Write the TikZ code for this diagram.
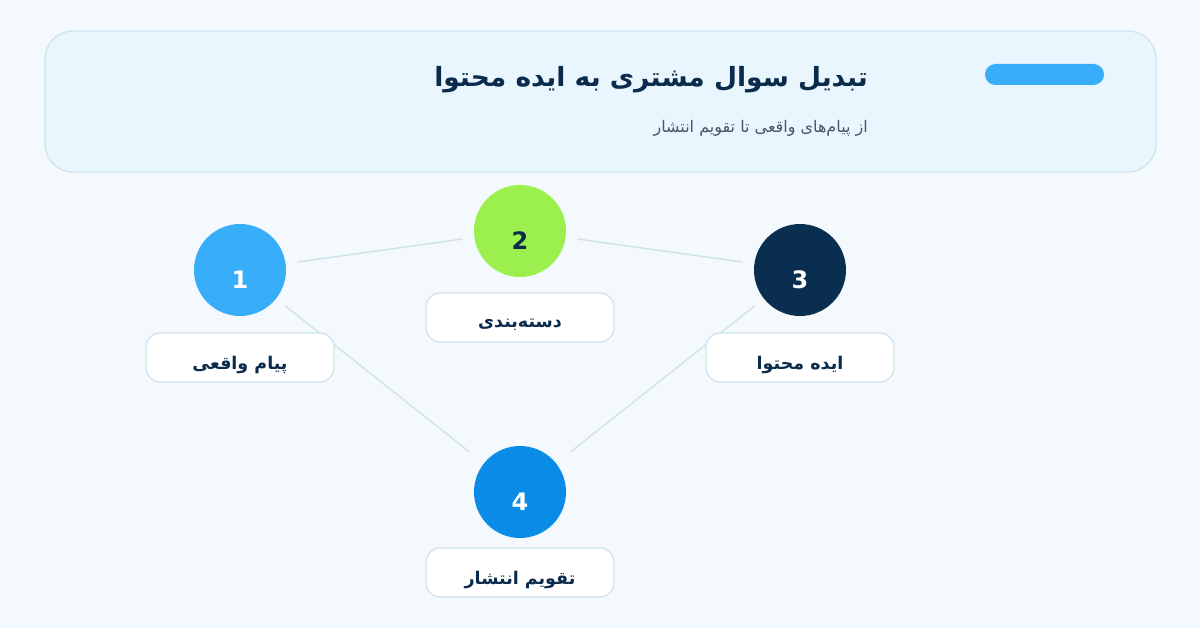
\documentclass[tikz,border=0pt]{standalone}
\usepackage{fontspec}
\TeXXeTstate=1
\newfontfamily\arabicfont[Script=Arabic]{DejaVu Sans}
\newfontfamily\numfont{DejaVu Sans}
\definecolor{bgc}{HTML}{F3F9FD}
\definecolor{cardfill}{HTML}{EAF6FE}
\definecolor{cardline}{HTML}{CCE4EE}
\definecolor{accent}{HTML}{38AEF9}
\definecolor{navy}{HTML}{0B2B4C}
\definecolor{subgray}{HTML}{4A5565}
\definecolor{cA}{HTML}{38ADFA}
\definecolor{cB}{HTML}{9CF04E}
\definecolor{cC}{HTML}{0A2E50}
\definecolor{cD}{HTML}{0A8BE6}
\definecolor{linec}{HTML}{CFE3EA}
\definecolor{boxline}{HTML}{CFE3EC}
\tikzset{
  circ/.style={circle, minimum size=92pt, inner sep=0pt},
  num/.style={inner sep=0pt, font=\numfont\bfseries\fontsize{24}{28}\selectfont},
  lbl/.style={rounded corners=14pt, draw=boxline, line width=1.2pt, fill=white, minimum width=188pt, minimum height=49pt, inner sep=0pt},
  lbltext/.style={inner sep=0pt, text=navy, font=\arabicfont\bfseries\fontsize{17.5}{20}\selectfont},
  conn/.style={draw=linec, line width=1.4pt, shorten <=12pt, shorten >=12pt}
}
\begin{document}
\begin{tikzpicture}[x=1pt,y=-1pt]
\fill[bgc] (0,0) rectangle (1200,628);
\useasboundingbox (0,0) rectangle (1200,628);
\draw[fill=cardfill, draw=cardline, line width=1.2pt, rounded corners=28pt] (45,31) rectangle (1156,172);
\fill[accent, rounded corners=10.5pt] (985,64) rectangle (1104,85);
\node[anchor=east, text=navy, inner sep=0pt, font=\arabicfont\bfseries\fontsize{26.5}{30}\selectfont] (title) at (868,80) {\beginR تبدیل سوال مشتری به ایده محتوا\endR};
\node[anchor=east, text=subgray, inner sep=0pt, font=\arabicfont\fontsize{16}{19}\selectfont] (sub) at (868,128) {\beginR از پیام‌های واقعی تا تقویم انتشار\endR};
\node[circ, fill=cA] (n1) at (240,270) {};
\node[circ, fill=cB] (n2) at (520,231) {};
\node[circ, fill=cC] (n3) at (800,270) {};
\node[circ, fill=cD] (n4) at (520,492) {};
\node[num, text=white] (d1) at (240,280) {1};
\node[num, text=navy] (d2) at (520,241) {2};
\node[num, text=white] (d3) at (800,280) {3};
\node[num, text=white] (d4) at (520,502) {4};
\draw[conn] (n1) -- (n2);
\draw[conn] (n2) -- (n3);
\draw[conn, shorten >=18pt] (n1) -- (n4);
\draw[conn, shorten >=18pt] (n3) -- (n4);
\node[lbl] (l1) at (240,357.5) {};
\node[lbl] (l2) at (520,317.5) {};
\node[lbl] (l3) at (800,357.5) {};
\node[lbl] (l4) at (520,572.5) {};
\node[lbltext] (t1) at (240,365) {\beginR پیام واقعی\endR};
\node[lbltext] (t2) at (520,325) {\beginR دسته‌بندی\endR};
\node[lbltext] (t3) at (800,365) {\beginR ایده محتوا\endR};
\node[lbltext] (t4) at (520,580) {\beginR تقویم انتشار\endR};
\end{tikzpicture}
\end{document}
